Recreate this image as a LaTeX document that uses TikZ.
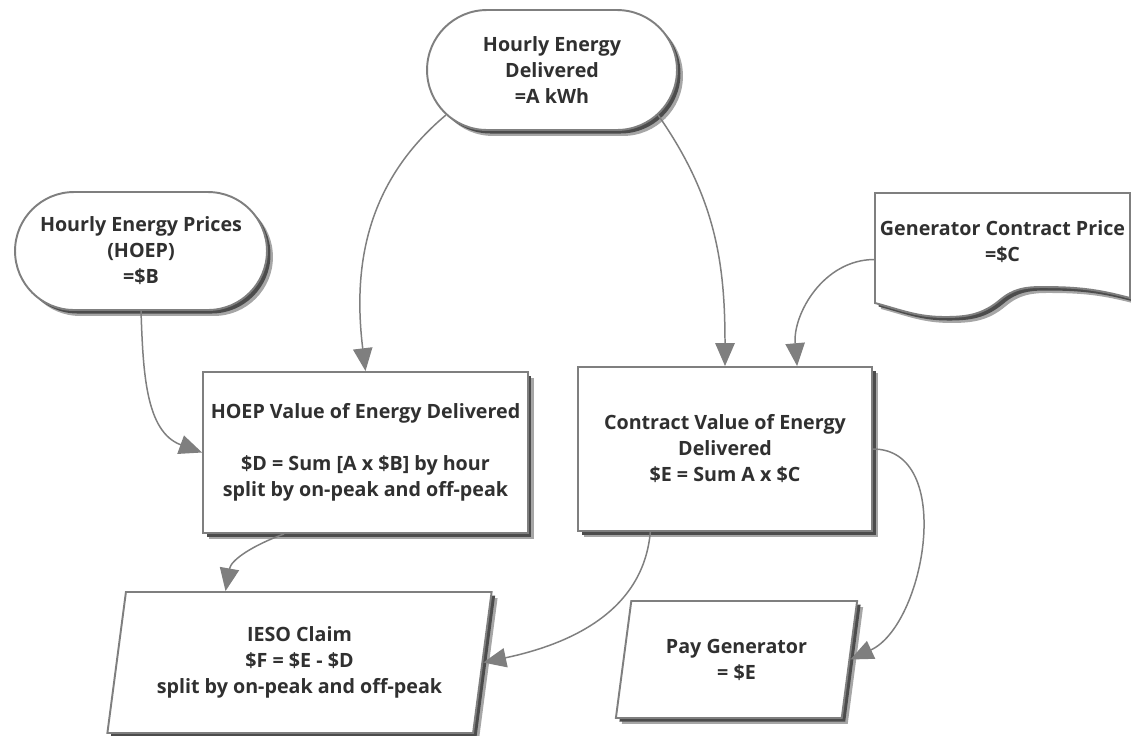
\documentclass[tikz,border=0pt]{standalone}
\usepackage{fontspec}
\setmainfont{Open Sans}
\usetikzlibrary{arrows.meta,shapes.misc,shapes.geometric,shadows}

\definecolor{LineGray}{HTML}{7F7F7F}
\definecolor{TextGray}{HTML}{303030}

\tikzset{
	shadowed/.style={drop shadow={fill=black!35,opacity=1,shadow xshift=3.4pt,shadow yshift=-3.4pt},
		drop shadow={fill=black!70,opacity=1,shadow xshift=2pt,shadow yshift=-2pt}},
	shapebase/.style={draw=LineGray, line width=1.1pt, fill=white, text=TextGray,
		font=\fontsize{11.2}{14.8}\selectfont\bfseries, align=center, inner sep=0pt, shadowed},
	stadium/.style={shapebase, rounded rectangle},
	valuebox/.style={shapebase, rectangle},
	slantbox/.style={shapebase, trapezium, trapezium stretches=true},
	flow/.style={draw=LineGray, line width=0.85pt, -{Triangle[length=13pt,width=11pt]}}
}

\begin{document}
\begin{tikzpicture}[x=0.02cm, y=0.02cm]
			\useasboundingbox (0,0) rectangle (1131,-735);
			\coordinate(PriceNW) at (875,-193);
			\coordinate(PriceNE) at (1130,-193);
			\coordinate(PriceSE) at (1130,-298);
			\coordinate(PriceSW) at (875,-303);
			
			\node[stadium, minimum width=5cm, minimum height=2.4cm] (energy) at (552,-70) {Hourly Energy\\Delivered\\=A kWh};
			\node[stadium, minimum width=5.04cm, minimum height=2.36cm] (hoep) at (141,-251) {Hourly Energy Prices\\(HOEP)\\=\$B};
			
			\draw[draw=LineGray, line width=1.1pt, fill=white, shadowed] (PriceSW) -- (PriceNW) -- (PriceNE) -- (PriceSE)
				to[out=165,in=0] (1042,-287) to[out=180,in=40] (1000,-300)
				to[out=220,in=0] (945,-317) to[out=180,in=-15] (PriceSW) -- cycle;
			\node[text=TextGray, font=\fontsize{11.2}{14.8}\selectfont\bfseries, align=center, inner sep=0pt,
				minimum width=5.1cm, minimum height=1.94cm] (price) at (1002.5,-241.5) {Generator Contract Price\\=\$C};
			
			\node[valuebox, minimum width=6.5cm, minimum height=3.22cm] (hoepval) at (365.5,-452.5) {HOEP Value of Energy Delivered\\[14.8pt]\$D = Sum [A x \$B] by hour\\split by on-peak and off-peak};
			\node[valuebox, minimum width=5.88cm, minimum height=3.28cm] (contract) at (725,-449) {Contract Value of Energy\\Delivered\\\$E = Sum A x \$C};
			
			\node[slantbox, trapezium left angle=78, trapezium right angle=102, minimum width=7.7cm, minimum height=2.82cm] (ieso) at (299.5,-662.5) {IESO Claim\\\$F = \$E - \$D\\split by on-peak and off-peak};
			\node[slantbox, trapezium left angle=76, trapezium right angle=104, minimum width=4.86cm, minimum height=2.34cm] (pay) at (736.5,-659.5) {Pay Generator\\= \$E};
			
			\draw[flow] (energy.203) to[out=220, in=97] (hoepval.north);
			\draw[flow] (energy.337) to[out=-55, in=90] (contract.north);
			\draw[flow] (hoep.south) to[out=-88, in=160] (hoepval.west);
			\draw[flow] (price.188) to[out=180, in=95] (contract.49);
			\draw[flow] (hoepval.225) to[out=200, in=80] (ieso.136);
			\draw[flow] (contract.228) to[out=-95, in=12] (ieso.east);
			\draw[flow] (contract.east) to[out=0, in=25] (pay.east);
		\end{tikzpicture}
\end{document}
